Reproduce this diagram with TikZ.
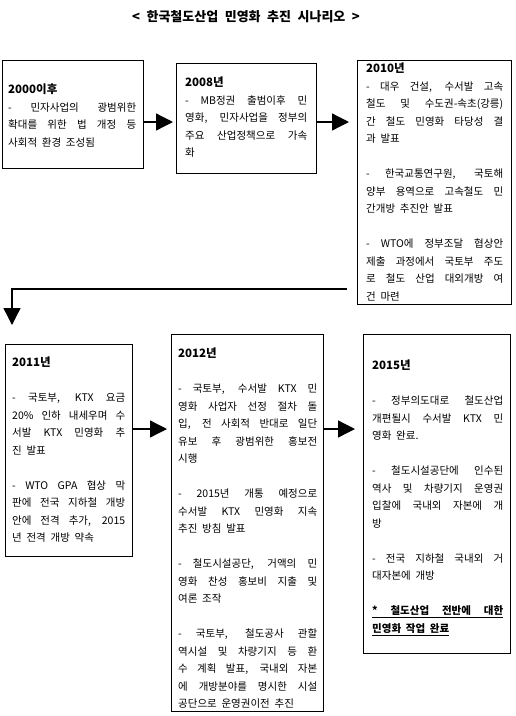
\documentclass[tikz,border=0pt]{standalone}
\usepackage{fontspec}
\setmainfont{Noto Sans CJK KR}
\usetikzlibrary{arrows.meta}
\newcommand{\J}[1]{{\spaceskip=0.15em plus 1fil\relax\makebox[\linewidth][s]{#1}}}
\newcommand{\BL}{\\ \mbox{}\\}
\newcommand{\hd}[1]{{\fontsize{11.5pt}{17.5pt}\selectfont\bfseries #1}}
\newcommand{\wsp}[1]{\spaceskip=#1em\relax}
\tikzset{
  box/.style={draw, line width=1.2pt, anchor=north west, inner sep=0pt},
  txt/.style={anchor=north west, inner sep=0pt, align=left,
              font=\fontsize{10.5pt}{17.5pt}\selectfont,
              execute at begin node={\wsp{0.45}}},
  arr/.style={line width=1.3pt, -{Triangle[length=17pt,width=17pt]}}
}
\begin{document}
\begin{tikzpicture}[x=1pt,y=-1pt]
\useasboundingbox (0,0) rectangle (516,716);
\node[font=\fontsize{13pt}{15pt}\selectfont\bfseries] (title) at (246,17)
  {\wsp{0.5}< 한국철도산업 민영화 추진 시나리오 >};
% boxes
\node[box, minimum width=141pt, minimum height=108pt] (b1) at (2,60) {};
\node[box, minimum width=140pt, minimum height=110pt] (b2) at (176,63) {};
\node[box, minimum width=154pt, minimum height=244pt] (b3) at (357,60) {};
\node[box, minimum width=127pt, minimum height=212pt] (b4) at (5,344) {};
\node[box, minimum width=152pt, minimum height=377pt] (b5) at (171,334) {};
\node[box, minimum width=147pt, minimum height=319pt] (b6) at (363,334) {};
% texts
\node[txt, text width=128pt] (t1) at (8,84) {%
\hd{2000이후}\\
\J{- 민자사업의 광범위한}\\
\J{확대를 위한 법 개정 등}\\
사회적 환경 조성됨};
\node[txt, text width=122pt] (t2) at (185,77) {%
\hd{2008년}\\
\J{- MB정권 출범이후 민}\\
\J{영화, 민자사업을 정부의}\\
\J{주요 산업정책으로 가속}\\
화};
\node[txt, text width=137pt] (t3) at (366,63) {%
\hd{2010년}\\
\J{- 대우 건설, 수서발 고속}\\
\J{철도 및 수도권-속초(강릉)}\\
\J{간 철도 민영화 타당성 결}\\
과 발표\BL
\J{- 한국교통연구원, 국토해}\\
\J{양부 용역으로 고속철도 민}\\
간개방 추진안 발표\BL
\J{- WTO에 정부조달 협상안}\\
\J{제출 과정에서 국토부 주도}\\
\J{로 철도 산업 대외개방 여}\\
건 마련};
\node[txt, text width=113pt] (t4) at (12,357) {%
\hd{2011년}\BL
\J{- 국토부, KTX 요금}\\
\J{20\% 인하 내세우며 수}\\
\J{서발 KTX 민영화 추}\\
진 발표\BL
\J{- WTO GPA 협상 막}\\
\J{판에 전국 지하철 개방}\\
\J{안에 전격 추가, 2015}\\
년 전격 개방 약속};
\node[txt, text width=139pt] (t5) at (178,348) {%
\hd{2012년}\BL
\J{- 국토부, 수서발 KTX 민}\\
\J{영화 사업자 선정 절차 돌}\\
\J{입, 전 사회적 반대로 일단}\\
\J{유보 후 광범위한 홍보전}\\
시행\BL
\J{- 2015년 개통 예정으로}\\
\J{수서발 KTX 민영화 지속}\\
추진 방침 발표\BL
\J{- 철도시설공단, 거액의 민}\\
\J{영화 찬성 홍보비 지출 및}\\
여론 조작\BL
\J{- 국토부, 철도공사 관할}\\
\J{역시설 및 차량기지 등 환}\\
\J{수 계획 발표, 국내외 자본}\\
\J{에 개방분야를 명시한 시설}\\
공단으로 운영권이전 추진};
\node[txt, text width=131pt] (t6) at (372,360) {%
\hd{2015년}\BL
\J{- 정부의도대로 철도산업}\\
\J{개편될시 수서발 KTX 민}\\
영화 완료.\BL
\J{- 철도시설공단에 인수된}\\
\J{역사 및 차량기지 운영권}\\
\J{입찰에 국내외 자본에 개}\\
방\BL
\J{- 전국 지하철 국내외 거}\\
대자본에 개방\BL
\underline{\J{\textbf{* 철도산업 전반에 대한}}}\\
\underline{\textbf{민영화 작업 완료}}};
% connectors
\coordinate (r1) at (0,122);
\coordinate (r2) at (0,429);
\draw[arr, shorten >=3pt] (b1.east |- r1) -- (b2.west |- r1);
\draw[arr, shorten >=8pt] (b2.east |- r1) -- (b3.west |- r1);
\draw[arr, shorten >=4pt] (b4.east |- r2) -- (b5.west |- r2);
\draw[arr, shorten >=8pt] (b5.east |- r2) -- (b6.west |- r2);
\coordinate (k1) at (347,289);
\coordinate (k2) at (12,289);
\coordinate (k3) at (12,325);
\draw[arr] (k1) -- (k2) -- (k3);
\end{tikzpicture}
\end{document}
